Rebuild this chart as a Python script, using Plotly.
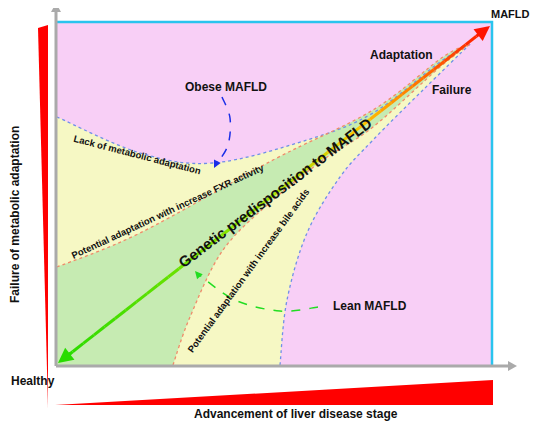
import plotly.graph_objects as go

# diagram control points (pixel space of the 539x427 canvas, y downwards)
obese_x = [57, 140, 213, 307, 373, 440, 470]
obese_y = [117, 153, 163, 140, 113, 62, 44]
fxr_x = [57, 140, 273, 373, 443, 470]
fxr_y = [267, 233, 160, 110, 57, 44]
bile_x = [173, 190, 223, 273, 323, 373, 440, 470]
bile_y = [365, 317, 250, 200, 160, 127, 67, 44]
lean_x = [280, 287, 307, 340, 373, 423, 470]
lean_y = [365, 300, 233, 177, 140, 90, 44]
box_x = [57, 492]
box_y = [22, 365]

PINK, YELLOW, GREEN = "#f8cff6", "#f6f8c4", "#c6ebb2"
FONT = "Liberation Sans, Arial, sans-serif"


def smooth(xs, ys, move=True):
    """Catmull-Rom through the points as an SVG cubic path."""
    pts = list(zip(xs, ys))
    d = (f"M {pts[0][0]} {pts[0][1]}" if move else f" L {pts[0][0]} {pts[0][1]}")
    for i in range(len(pts) - 1):
        p0 = pts[max(i - 1, 0)]
        p1, p2 = pts[i], pts[i + 1]
        p3 = pts[min(i + 2, len(pts) - 1)]
        c1 = (p1[0] + (p2[0] - p0[0]) / 6, p1[1] + (p2[1] - p0[1]) / 6)
        c2 = (p2[0] - (p3[0] - p1[0]) / 6, p2[1] - (p3[1] - p1[1]) / 6)
        d += f" C {c1[0]:.1f} {c1[1]:.1f} {c2[0]:.1f} {c2[1]:.1f} {p2[0]} {p2[1]}"
    return d


shapes = [
    dict(type="rect", x0=box_x[0], x1=box_x[1], y0=box_y[0], y1=box_y[1], fillcolor=PINK, line_width=0),
    dict(type="path", path=smooth(obese_x, obese_y) + smooth(lean_x[::-1], lean_y[::-1], False)
         + " L 57 365 Z", fillcolor=YELLOW, line_width=0),
    dict(type="path", path=smooth(fxr_x, fxr_y) + smooth(bile_x[::-1], bile_y[::-1], False)
         + " L 57 365 Z", fillcolor=GREEN, line_width=0),
]
for xs, ys, c in [(obese_x, obese_y, "#6f8fe8"), (lean_x, lean_y, "#6f8fe8"),
                  (fxr_x, fxr_y, "#f08a6a"), (bile_x, bile_y, "#f08a6a")]:
    shapes.append(dict(type="path", path=smooth(xs, ys), line=dict(color=c, width=1.3, dash="dot")))
shapes += [
    dict(type="path", path=f"M {box_x[0]} {box_y[0]} L {box_x[1]} {box_y[0]} L {box_x[1]} {box_y[1]}",
         line=dict(color="#29c4ee", width=2.5)),
    dict(type="line", x0=56, y0=366, x1=56, y1=10, line=dict(color="#aaaaaa", width=3)),
    dict(type="line", x0=56, y0=366, x1=510, y1=366, line=dict(color="#aaaaaa", width=3)),
    dict(type="path", path="M 38 28 L 48 25 L 48 408 Z", fillcolor="#ff0000", line_width=0),
    dict(type="path", path="M 55 405 L 493 380 L 493 405 Z", fillcolor="#ff0000", line_width=0),
    dict(type="path", path=smooth([222, 230, 228, 216], [97, 118, 145, 165]),
         line=dict(color="#1a2ee8", width=1.5, dash="dash")),
    dict(type="path", path=smooth([318, 280, 235, 197], [307, 311, 300, 273]),
         line=dict(color="#22dd22", width=1.5, dash="dash")),
    # grey axis arrowheads
    dict(type="path", path="M 51 12 L 56 3 L 61 12 Z", fillcolor="#aaaaaa", line_width=0),
    dict(type="path", path="M 508 361 L 517 366 L 508 371 Z", fillcolor="#aaaaaa", line_width=0),
]
for s in shapes:
    s["layer"] = "below"

fig = go.Figure()

# gradient diagonal arrow
start, end = (62, 360), (487, 28)
stops = [(0, (40, 220, 0)), (0.45, (150, 230, 0)), (0.7, (255, 200, 0)), (1, (255, 20, 0))]


def col(t):
    for (t0, c0), (t1, c1) in zip(stops, stops[1:]):
        if t <= t1:
            f = (t - t0) / (t1 - t0)
            return "rgb(%d,%d,%d)" % tuple(int(a + (b - a) * f) for a, b in zip(c0, c1))


n = 40
for i in range(n):
    t0, t1 = i / n, (i + 1) / n
    fig.add_trace(go.Scatter(
        x=[start[0] + (end[0] - start[0]) * t0, start[0] + (end[0] - start[0]) * t1],
        y=[start[1] + (end[1] - start[1]) * t0, start[1] + (end[1] - start[1]) * t1],
        mode="lines", line=dict(color=col((t0 + t1) / 2), width=3), hoverinfo="skip"))

annotations = []
for x, y, ax, ay, c, w, s in [
    (end[0] + 3, end[1] - 2, end[0] - 10, end[1] + 8, "#ff1400", 3, 1),
    (start[0] - 4, start[1] + 3, start[0] + 10, start[1] - 8, "#28dc00", 3, 1),
    (214, 168, 218, 160, "#1a2ee8", 1.5, 1),
    (195, 271, 201, 278, "#22dd22", 1.5, 1),
]:
    annotations.append(dict(x=x, y=y, ax=ax, ay=ay, xref="x", yref="y", axref="x", ayref="y",
                            text="", showarrow=True, arrowhead=2, arrowsize=s, arrowwidth=w,
                            arrowcolor=c))


def txt(x, y, s, size=12, angle=0):
    annotations.append(dict(x=x, y=y, xref="x", yref="y", text=f"<b>{s}</b>",
                            showarrow=False, textangle=angle,
                            font=dict(family=FONT, size=size, color="#111111")))


txt(15, 215, "Failure of metabolic adaptation", 12, -90)
txt(33, 381, "Healthy", 12)
txt(510, 14, "MAFLD", 11)
txt(296, 414, "Advancement of liver disease stage", 12)
txt(401, 55, "Adaptation", 12)
txt(452, 90, "Failure", 12)
txt(226, 87, "Obese MAFLD", 12)
txt(370, 306, "Lean MAFLD", 12)
txt(137, 154, "Lack of metabolic adaptation", 9.5, 14.5)
txt(167, 211, "Potential adaptation with increase FXR activity", 9.5, -25)
txt(275, 192, "Genetic predisposition to MAFLD", 15, -37)
txt(248, 270, "Potential adaptation with increase bile acids", 9.5, -54)

# the page body adds an 8px margin, so shift the visible window accordingly
fig.update_layout(
    width=531, height=419, margin=dict(l=0, r=0, t=0, b=0), showlegend=False,
    plot_bgcolor="white", paper_bgcolor="white", shapes=shapes, annotations=annotations,
    xaxis=dict(range=[8, 539], visible=False, fixedrange=True),
    yaxis=dict(range=[427, 8], visible=False, fixedrange=True),
)
fig.write_html("out.html")
